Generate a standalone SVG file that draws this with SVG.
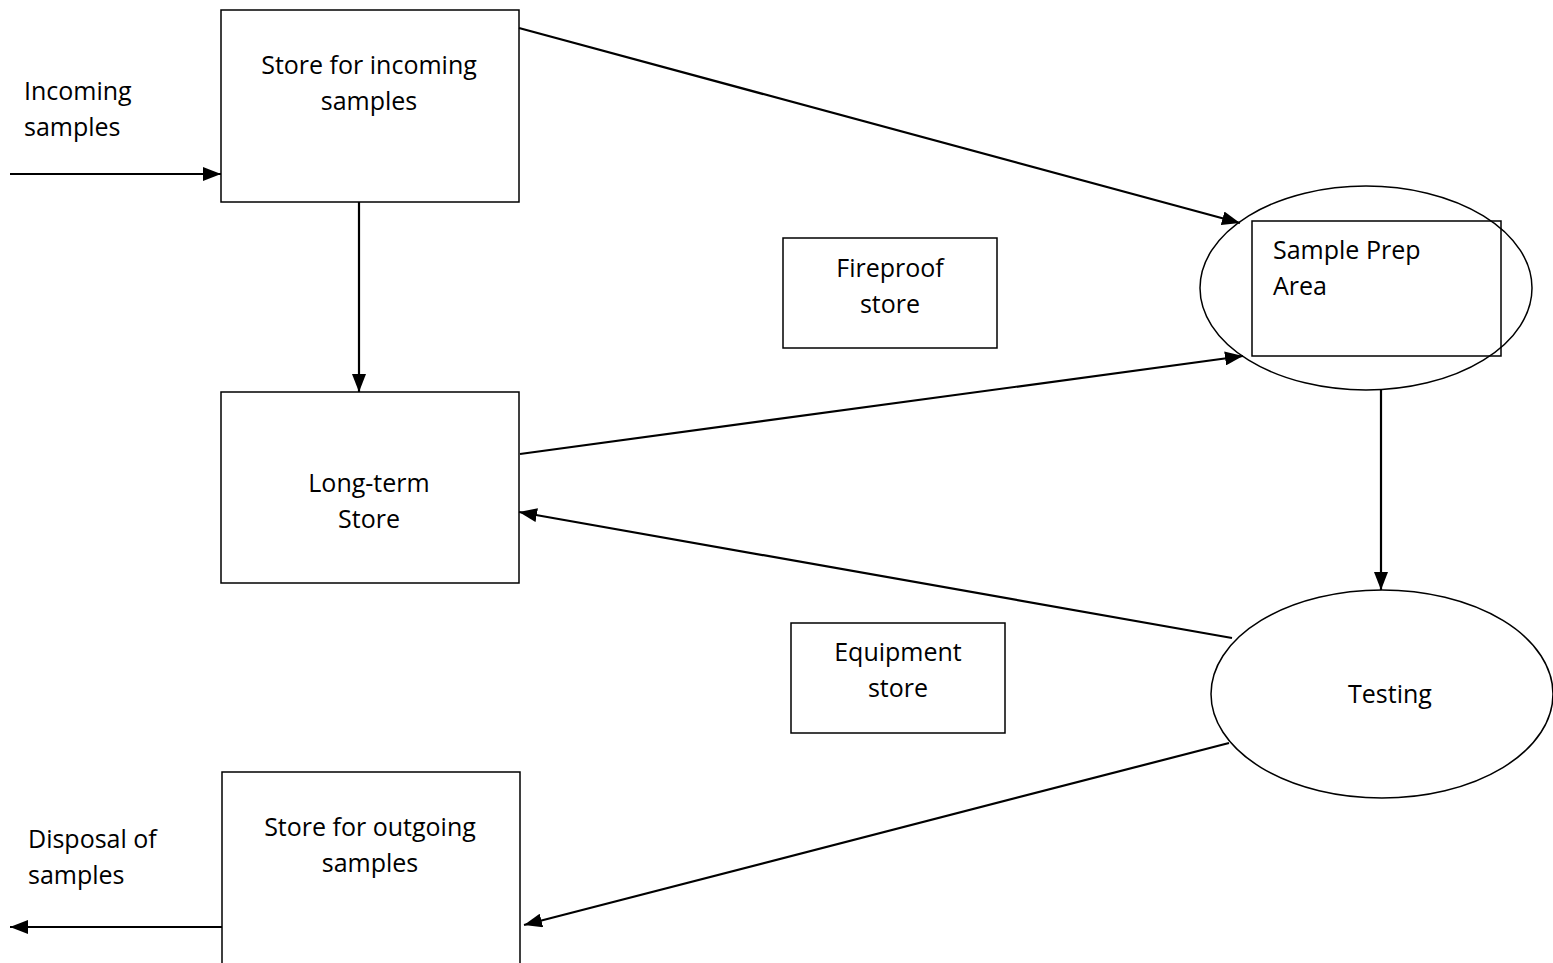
<svg xmlns="http://www.w3.org/2000/svg" width="1553" height="963" viewBox="0 0 1553 963">
<style>
.box{fill:none;stroke:#000;stroke-width:1.5}
.ln{fill:none;stroke:#000;stroke-width:2.2}
text{font-family:"Open Sans","Liberation Sans",sans-serif;font-size:25px;fill:#000}
.c{text-anchor:middle}
</style>
<defs>
<marker id="a" markerWidth="18" markerHeight="14" refX="18" refY="7" orient="auto" markerUnits="userSpaceOnUse">
<path d="M0,0 L18,7 L0,14 z" fill="#000"/>
</marker>
</defs>
<g id="connectors">
<line class="ln" x1="10" y1="174" x2="221" y2="174" marker-end="url(#a)"/>
<line class="ln" x1="519" y1="28" x2="1240" y2="223" marker-end="url(#a)"/>
<line class="ln" x1="359" y1="202" x2="359" y2="392" marker-end="url(#a)"/>
<line class="ln" x1="520" y1="454" x2="1243" y2="356" marker-end="url(#a)"/>
<line class="ln" x1="1381" y1="389" x2="1381" y2="590" marker-end="url(#a)"/>
<line class="ln" x1="1232" y1="638" x2="519" y2="512" marker-end="url(#a)"/>
<line class="ln" x1="1229" y1="743" x2="524" y2="925" marker-end="url(#a)"/>
<line class="ln" x1="222" y1="927" x2="10" y2="927" marker-end="url(#a)"/>
</g>
<g id="incoming-label">
<text x="24" y="100">Incoming</text>
<text x="24" y="136">samples</text>
</g>
<g id="store-incoming">
<rect class="box" x="221" y="10" width="298" height="192"/>
<text class="c" x="369" y="74">Store for incoming</text>
<text class="c" x="369" y="110">samples</text>
</g>
<g id="fireproof">
<rect class="box" x="783" y="238" width="214" height="110"/>
<text class="c" x="890" y="277">Fireproof</text>
<text class="c" x="890" y="313">store</text>
</g>
<g id="sample-prep">
<ellipse class="box" cx="1366" cy="288" rx="166" ry="102"/>
<rect class="box" x="1252" y="221" width="249" height="135"/>
<text x="1273" y="259">Sample Prep</text>
<text x="1273" y="295">Area</text>
</g>
<g id="long-term">
<rect class="box" x="221" y="392" width="298" height="191"/>
<text class="c" x="369" y="492">Long-term</text>
<text class="c" x="369" y="528">Store</text>
</g>
<g id="equipment">
<rect class="box" x="791" y="623" width="214" height="110"/>
<text class="c" x="898" y="661">Equipment</text>
<text class="c" x="898" y="697">store</text>
</g>
<g id="testing">
<ellipse class="box" cx="1382" cy="694" rx="171" ry="104"/>
<text class="c" x="1390" y="703">Testing</text>
</g>
<g id="store-outgoing">
<rect class="box" x="222" y="772" width="298" height="200"/>
<text class="c" x="370" y="836">Store for outgoing</text>
<text class="c" x="370" y="872">samples</text>
</g>
<g id="disposal-label">
<text x="28" y="848">Disposal of</text>
<text x="28" y="884">samples</text>
</g>
</svg>
